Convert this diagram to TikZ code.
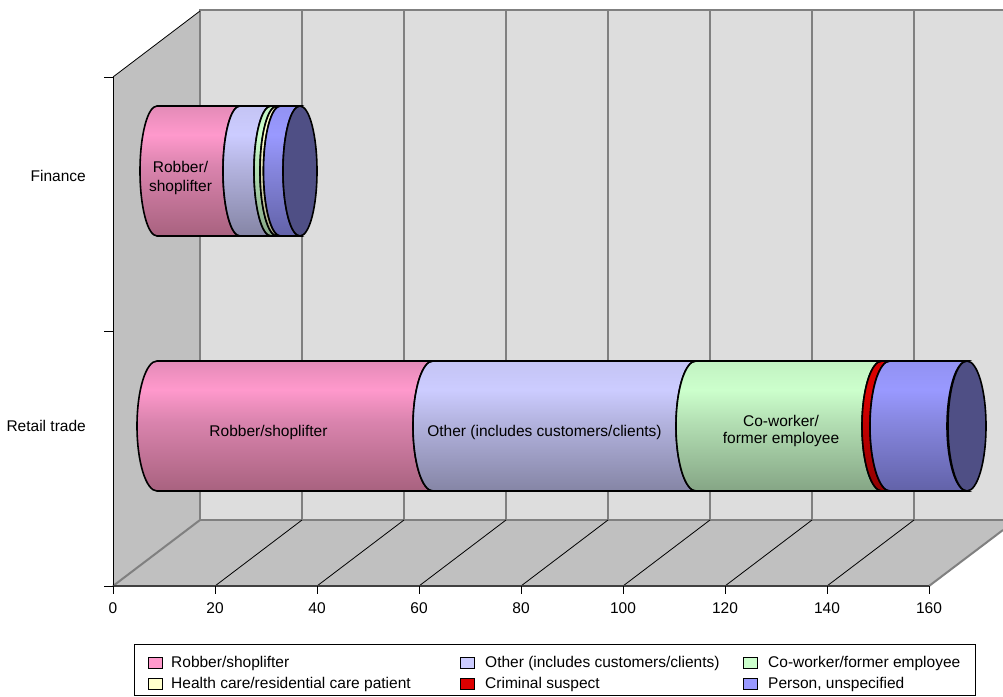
\documentclass[tikz,border=0pt]{standalone}
\usepackage{fontspec}
\setmainfont{Liberation Sans}
\definecolor{wallback}{HTML}{DDDDDD}
\definecolor{wallside}{HTML}{C0C0C0}
\definecolor{gridc}{HTML}{808080}
\definecolor{capc}{HTML}{4F4F85}
% legend colours
\definecolor{pinkL}{HTML}{FF99CC}
\definecolor{lavL}{HTML}{CCCCFF}
\definecolor{greenL}{HTML}{CCFFCC}
\definecolor{yellowL}{HTML}{FFFFCC}
\definecolor{redL}{HTML}{DD0000}
\definecolor{blueL}{HTML}{9999FF}
% shading colours
\definecolor{pinkT}{HTML}{E38BB7}\definecolor{pinkM}{HTML}{DA84AE}\definecolor{pinkB}{HTML}{A8627F}
\definecolor{lavT}{HTML}{C4C4F4}\definecolor{lavM}{HTML}{B4B4E0}\definecolor{lavB}{HTML}{8585A5}
\definecolor{greenT}{HTML}{C2F2C2}\definecolor{greenM}{HTML}{B4E0B4}\definecolor{greenB}{HTML}{85A585}
\definecolor{yellowT}{HTML}{F2F2C2}\definecolor{yellowM}{HTML}{E0E0B4}\definecolor{yellowB}{HTML}{A5A585}
\definecolor{redT}{HTML}{D40000}\definecolor{redM}{HTML}{C40000}\definecolor{redB}{HTML}{900000}
\definecolor{blueT}{HTML}{9292F2}\definecolor{blueM}{HTML}{8787E0}\definecolor{blueB}{HTML}{6262A8}
\pgfdeclareverticalshading{pinkbar}{100bp}{color(0bp)=(pinkB); color(25bp)=(pinkB); color(52bp)=(pinkM); color(64bp)=(pinkL); color(75bp)=(pinkT); color(100bp)=(pinkT)}
\pgfdeclareverticalshading{lavbar}{100bp}{color(0bp)=(lavB); color(25bp)=(lavB); color(52bp)=(lavM); color(64bp)=(lavL); color(75bp)=(lavT); color(100bp)=(lavT)}
\pgfdeclareverticalshading{greenbar}{100bp}{color(0bp)=(greenB); color(25bp)=(greenB); color(52bp)=(greenM); color(64bp)=(greenL); color(75bp)=(greenT); color(100bp)=(greenT)}
\pgfdeclareverticalshading{yellowbar}{100bp}{color(0bp)=(yellowB); color(25bp)=(yellowB); color(52bp)=(yellowM); color(64bp)=(yellowL); color(75bp)=(yellowT); color(100bp)=(yellowT)}
\pgfdeclareverticalshading{redbar}{100bp}{color(0bp)=(redB); color(25bp)=(redB); color(52bp)=(redM); color(64bp)=(redL); color(75bp)=(redT); color(100bp)=(redT)}
\pgfdeclareverticalshading{bluebar}{100bp}{color(0bp)=(blueB); color(25bp)=(blueB); color(52bp)=(blueM); color(64bp)=(blueL); color(75bp)=(blueT); color(100bp)=(blueT)}
% cylinder segment: #1 start x, #2 end x, #3 centre y, #4 x radius, #5 shading
\newcommand\cylseg[5]{%
  \shadedraw[shading=#5, barline] (#1,#3-65) arc[start angle=270,end angle=90,x radius=#4,y radius=65]
    -- (#2,#3+65) arc[start angle=90,end angle=270,x radius=#4,y radius=65] -- cycle;}
\begin{document}
\begin{tikzpicture}[x=1pt,y=-1pt,
  font=\fontsize{15.5}{18}\selectfont,
  gridline/.style={draw=gridc, line width=1.5pt},
  edgeline/.style={draw=gridc, line width=2pt},
  barline/.style={draw=black, line width=1.6pt},
  thinline/.style={draw=black, line width=0.8pt},
  lbl/.style={inner sep=0pt, text=black},
  legsq/.style={draw=black, line width=0.8pt}]
\useasboundingbox (0,0) rectangle (1003,696);
\fill[white] (0,0) rectangle (1003,696);
% walls and floor
\fill[wallback] (200,10) rectangle (1003,520);
\fill[wallside] (113,77) -- (200,11) -- (200,520) -- (113,586) -- cycle;
\fill[wallside] (113,586) -- (200,520) -- (1003,520) -- (1003,530) -- (929,586) -- cycle;
\foreach \x in {302,404,...,914} \draw[gridline] (\x,10) -- (\x,520);
\draw[edgeline] (200,520) -- (200,10) -- (1003,10);
\draw[edgeline] (200,520) -- (1003,520);
\draw[edgeline] (113,586) -- (200,520);
\draw[edgeline] (929,586) -- (1003,530);
\foreach \x in {215,317,...,827} \draw[thinline] (\x,586) -- ++(87,-66);
\draw[thinline] (113,77) -- (200,11);
% axes
\draw[thinline] (113,77) -- (113,586);
\draw[draw=black!75, line width=2pt] (113,586) -- (929,586);
\foreach \y in {77,331.5,586} \draw[thinline] (104,\y) -- (113,\y);
\foreach \x in {113,215,...,929} \draw[thinline] (\x,586) -- (\x,594);
\foreach \v in {0,20,...,160} \node[lbl, anchor=base] (tick\v) at (113+5.1*\v,613) {\v};
\node[lbl, anchor=base east] (catfin) at (86,181.5) {Finance};
\node[lbl, anchor=base east] (catret) at (86,431.5) {Retail trade};
% Finance bar
\cylseg{157}{240}{171}{17}{pinkbar}
\cylseg{240}{271}{171}{17}{lavbar}
\cylseg{271}{277}{171}{17}{greenbar}
\cylseg{277}{280.5}{171}{17}{yellowbar}
\cylseg{280.5}{300}{171}{17}{bluebar}
\filldraw[fill=capc, barline] (300,171) ellipse[x radius=17, y radius=65];
% Retail bar
\cylseg{157}{433}{426}{20}{pinkbar}
\cylseg{433}{696}{426}{20}{lavbar}
\cylseg{696}{882}{426}{20}{greenbar}
\cylseg{882}{890}{426}{20}{redbar}
\cylseg{890}{967}{426}{20}{bluebar}
\filldraw[fill=capc, barline] (967,426) ellipse[x radius=19, y radius=65];
% bar labels
\node[lbl, align=center, font=\fontsize{15.5}{19}\selectfont] (finrob) at (180.5,178) {Robber/\\shoplifter};
\node[lbl, anchor=base] (retrob) at (268.5,436) {Robber/shoplifter};
\node[lbl, anchor=base] (retoth) at (544.5,436) {Other (includes customers/clients)};
\node[lbl, align=center, font=\fontsize{15.5}{17}\selectfont] (retcow) at (781,431) {Co-worker/\\former employee};
% legend
\draw[thinline] (134,644) rectangle (975,695);
\filldraw[fill=pinkL, legsq] (148,657) rectangle (162,668);
\node[lbl, anchor=base west] (leg1) at (171,667.5) {Robber/shoplifter};
\filldraw[fill=lavL, legsq] (460,657) rectangle (474,668);
\node[lbl, anchor=base west] (leg2) at (485,667.5) {Other (includes customers/clients)};
\filldraw[fill=greenL, legsq] (743,657) rectangle (757,668);
\node[lbl, anchor=base west] (leg3) at (768,667.5) {Co-worker/former employee};
\filldraw[fill=yellowL, legsq] (148,678) rectangle (162,689);
\node[lbl, anchor=base west] (leg4) at (171,688) {Health care/residential care patient};
\filldraw[fill=redL, legsq] (460,678) rectangle (474,689);
\node[lbl, anchor=base west] (leg5) at (485,688) {Criminal suspect};
\filldraw[fill=blueL, legsq] (743,678) rectangle (757,689);
\node[lbl, anchor=base west] (leg6) at (768,688) {Person, unspecified};
\end{tikzpicture}
\end{document}
